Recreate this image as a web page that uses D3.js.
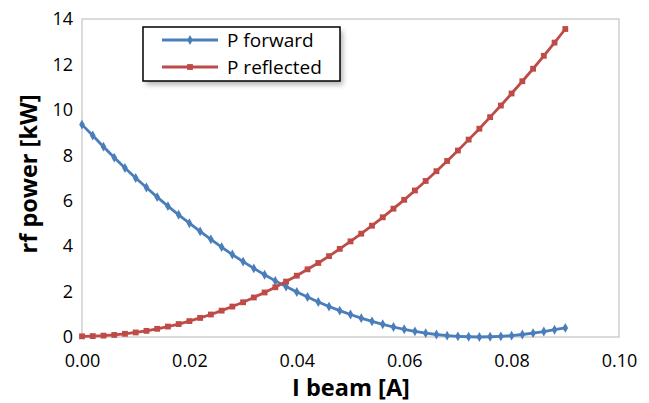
<!DOCTYPE html>
<html>
<head>
<meta charset="utf-8">
<script src="https://cdn.jsdelivr.net/npm/d3@7"></script>
<style>
  body { margin: 0; background: #fff; }
  text { font-family: "Open Sans", "Liberation Sans", sans-serif; }
</style>
</head>
<body>
<div class="canvas"></div>
<script>
// Data
const beamCurrent = [0, 0.002, 0.004, 0.006, 0.008, 0.010, 0.012, 0.014, 0.016, 0.018,
    0.020, 0.022, 0.024, 0.026, 0.028, 0.030, 0.032, 0.034, 0.036, 0.038,
    0.040, 0.042, 0.044, 0.046, 0.048, 0.050, 0.052, 0.054, 0.056, 0.058,
    0.060, 0.062, 0.064, 0.066, 0.068, 0.070, 0.072, 0.074, 0.076, 0.078,
    0.080, 0.082, 0.084, 0.086, 0.088, 0.090];
const pForward = [9.35, 8.87, 8.38, 7.90, 7.44, 7.00, 6.58, 6.16, 5.76, 5.38,
    5.01, 4.65, 4.30, 3.96, 3.63, 3.32, 3.02, 2.74, 2.47, 2.22,
    1.98, 1.76, 1.54, 1.34, 1.16, 0.99, 0.83, 0.69, 0.56, 0.44,
    0.34, 0.25, 0.17, 0.11, 0.06, 0.03, 0.01, 0.00, 0.01, 0.03,
    0.06, 0.11, 0.17, 0.24, 0.32, 0.40];
const pReflected = [0.03, 0.04, 0.06, 0.09, 0.14, 0.20, 0.27, 0.36, 0.46, 0.57,
    0.70, 0.84, 0.99, 1.16, 1.34, 1.53, 1.74, 1.96, 2.19, 2.44,
    2.70, 2.98, 3.26, 3.56, 3.88, 4.21, 4.55, 4.90, 5.27, 5.65,
    6.04, 6.45, 6.87, 7.30, 7.75, 8.21, 8.69, 9.17, 9.68, 10.19,
    10.72, 11.26, 11.81, 12.38, 12.96, 13.56];
const xTicks = [0, 0.02, 0.04, 0.06, 0.08, 0.10];
const yTicks = [0, 2, 4, 6, 8, 10, 12, 14];

const series = [
    { name: 'P forward', values: pForward, color: '#4a7ebb', marker: d3.symbolDiamond, size: 28 },
    { name: 'P reflected', values: pReflected, color: '#be4b48', marker: d3.symbolSquare, size: 34 }
];

// Layout
const width = 649, height = 403;
const margin = { top: 19, right: 30, bottom: 66, left: 82 };
const graphWidth = width - margin.left - margin.right;
const graphHeight = height - margin.top - margin.bottom;

const svg = d3.select('.canvas')
    .append('svg')
    .attr('width', width)
    .attr('height', height);

const graph = svg.append('g')
    .attr('transform', `translate(${margin.left},${margin.top})`);

const x = d3.scaleLinear().domain([0, 0.10]).range([0, graphWidth]);
const y = d3.scaleLinear().domain([0, 14]).range([graphHeight, 0]);

// plot area border
graph.append('rect')
    .attr('width', graphWidth)
    .attr('height', graphHeight)
    .attr('fill', 'none')
    .attr('stroke', '#c8c8c8')
    .attr('stroke-width', 1.3);

// Axes (no tick marks, no domain line)
const xAxis = graph.append('g')
    .attr('transform', `translate(0,${graphHeight})`)
    .call(d3.axisBottom(x).tickValues(xTicks).tickFormat(d3.format('.2f')).tickSize(0).tickPadding(17));
const yAxis = graph.append('g')
    .call(d3.axisLeft(y).tickValues(yTicks).tickSize(0).tickPadding(9));

[xAxis, yAxis].forEach(a => {
    a.select('.domain').remove();
    a.selectAll('text')
        .style('font-family', '"Open Sans", sans-serif')
        .style('font-size', '18px')
        .attr('fill', '#000');
});

// Lines and markers
const line = d3.line()
    .x((d, i) => x(beamCurrent[i]))
    .y(d => y(d));

series.forEach(s => {
    graph.append('path')
        .datum(s.values)
        .attr('d', line)
        .attr('fill', 'none')
        .attr('stroke', s.color)
        .attr('stroke-width', 2.8);

    graph.selectAll(null)
        .data(s.values)
        .enter()
        .append('path')
        .attr('d', d3.symbol().type(s.marker).size(s.size))
        .attr('transform', (d, i) => `translate(${x(beamCurrent[i])},${y(d)})`)
        .attr('fill', s.color);
});

// Axis titles
svg.append('text')
    .attr('x', 351)
    .attr('y', 396)
    .attr('text-anchor', 'middle')
    .style('font-size', '23.5px')
    .style('font-weight', 'bold')
    .text('I beam [A]');

svg.append('text')
    .attr('transform', `translate(37,174) rotate(-90)`)
    .attr('text-anchor', 'middle')
    .style('font-size', '23.5px')
    .style('font-weight', 'bold')
    .text('rf power [kW]');

// Legend with shadow
const legend = svg.append('g').attr('transform', 'translate(143,27)');
const defs = svg.append('defs');
const filter = defs.append('filter').attr('id', 'shadow')
    .attr('x', '-10%').attr('y', '-10%').attr('width', '130%').attr('height', '150%');
filter.append('feGaussianBlur').attr('stdDeviation', 2.5);

legend.append('rect')
    .attr('x', 3).attr('y', 4)
    .attr('width', 197).attr('height', 54)
    .attr('fill', '#999')
    .attr('opacity', 0.7)
    .attr('filter', 'url(#shadow)');
legend.append('rect')
    .attr('width', 197).attr('height', 54)
    .attr('fill', '#fff')
    .attr('stroke', '#000')
    .attr('stroke-width', 1.5);

series.forEach((s, i) => {
    const row = legend.append('g').attr('transform', `translate(0,${13 + i * 27})`);
    row.append('line')
        .attr('x1', 19).attr('x2', 75)
        .attr('stroke', s.color).attr('stroke-width', 2.8);
    row.append('path')
        .attr('d', d3.symbol().type(s.marker).size(s.size))
        .attr('transform', 'translate(47,0)')
        .attr('fill', s.color);
    row.append('text')
        .attr('x', 84).attr('dy', '0.35em')
        .style('font-size', '19px')
        .text(s.name);
});
</script>
</body>
</html>
